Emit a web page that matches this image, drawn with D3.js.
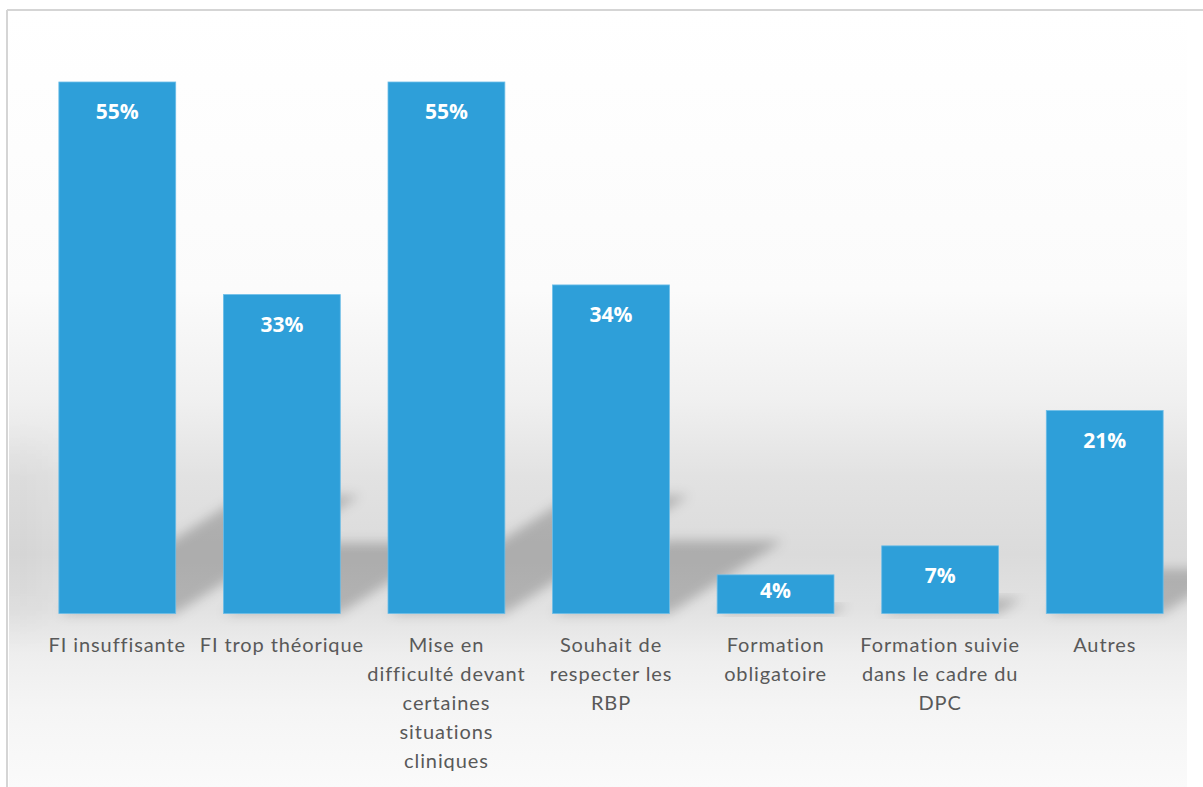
<!DOCTYPE html>
<html>
<head>
<meta charset="utf-8">
<script src="https://cdn.jsdelivr.net/npm/d3@7"></script>
<style>
  html, body { margin: 0; padding: 0; background: #ffffff; }
  svg { display: block; }
</style>
</head>
<body>
<svg id="chart" width="1203" height="787"></svg>
<script>
// Motivations for training (percent of respondents)
const categories = [
  ["FI insuffisante"],
  ["FI trop théorique"],
  ["Mise en", "difficulté devant", "certaines", "situations", "cliniques"],
  ["Souhait de", "respecter les", "RBP"],
  ["Formation", "obligatoire"],
  ["Formation suivie", "dans le cadre du", "DPC"],
  ["Autres"]
];
const values = [55, 33, 55, 34, 4, 7, 21];
const valueLabels = ["55%", "33%", "55%", "34%", "4%", "7%", "21%"];

const W = 1203, H = 787;
const svg = d3.select("#chart");
const defs = svg.append("defs");

// Plot backdrop: white fading into a grey floor band
const bg = defs.append("linearGradient")
  .attr("id", "floor").attr("x1", 0).attr("y1", 0).attr("x2", 0).attr("y2", 1);
[
  [0.00, "#ffffff"], [0.36, "#fbfbfb"], [0.50, "#f0f0f0"], [0.60, "#e2e2e2"],
  [0.70, "#dbdbdb"], [0.77, "#e2e2e2"], [0.83, "#eeeeee"], [0.90, "#f5f5f5"],
  [1.00, "#fafafa"]
].forEach(([o, c]) => bg.append("stop").attr("offset", o).attr("stop-color", c));

// Soft darkening along the left edge of the floor band
const edge = defs.append("linearGradient")
  .attr("id", "edgeShade").attr("x1", 0).attr("y1", 0).attr("x2", 1).attr("y2", 0);
edge.append("stop").attr("offset", 0).attr("stop-color", "#000").attr("stop-opacity", 0.06);
edge.append("stop").attr("offset", 1).attr("stop-color", "#000").attr("stop-opacity", 0);

defs.append("filter").attr("id", "blur")
  .attr("x", "-30%").attr("y", "-30%").attr("width", "160%").attr("height", "160%")
  .append("feGaussianBlur").attr("stdDeviation", 6);
defs.append("filter").attr("id", "blurWide")
  .attr("x", "-50%").attr("y", "-50%").attr("width", "200%").attr("height", "200%")
  .append("feGaussianBlur").attr("stdDeviation", 18);

const plotLeft = 9, plotRight = 1187, plotTop = 11;
defs.append("clipPath").attr("id", "plotClip")
  .append("rect").attr("x", plotLeft).attr("y", plotTop)
  .attr("width", plotRight - plotLeft).attr("height", H - plotTop);

svg.append("rect")
  .attr("x", plotLeft).attr("y", plotTop)
  .attr("width", plotRight - plotLeft).attr("height", H - plotTop)
  .attr("fill", "url(#floor)");

svg.append("rect")
  .attr("x", plotLeft).attr("y", 450).attr("width", 45).attr("height", 170)
  .attr("fill", "url(#edgeShade)").attr("filter", "url(#blurWide)")
  .attr("clip-path", "url(#plotClip)");

// Frame lines (top and left)
svg.append("line").attr("x1", 7).attr("x2", W).attr("y1", 10).attr("y2", 10)
  .attr("stroke", "#d5d5d5").attr("stroke-width", 2);
svg.append("line").attr("x1", 7).attr("x2", 7).attr("y1", 10).attr("y2", H)
  .attr("stroke", "#d5d5d5").attr("stroke-width", 2);

// Scales
const x = d3.scaleBand()
  .domain(d3.range(values.length))
  .range([35, 1187])
  .paddingInner(0.29)
  .paddingOuter(0.145);
const y = d3.scaleLinear().domain([0, 55]).range([613.5, 82]);

// Perspective shadows cast up and to the right of each bar
const shadowRatio = 0.222, shadowSlant = 1.56;
const shadowG = svg.append("g").attr("clip-path", "url(#plotClip)");
shadowG.selectAll("path")
  .data(values)
  .join("path")
  .attr("d", (d, i) => {
    const x0 = x(i), x1 = x(i) + x.bandwidth();
    const b = y(0);
    const sh = shadowRatio * (y(0) - y(d));
    const dx = sh * shadowSlant;
    return `M${x0},${b}L${x1},${b}L${x1 + dx},${b - sh}L${x0 + dx},${b - sh}Z`;
  })
  .attr("fill", "#000")
  .attr("fill-opacity", 0.21)
  .attr("filter", "url(#blur)");

// Bars
svg.append("g").selectAll("rect")
  .data(values)
  .join("rect")
  .attr("x", (d, i) => x(i))
  .attr("y", d => y(d))
  .attr("width", x.bandwidth())
  .attr("height", d => y(0) - y(d))
  .attr("fill", "#2e9fd9")
  .attr("stroke", "#6cbde8")
  .attr("stroke-width", 0.8);

// Value labels inside the bars
svg.append("g").selectAll("text")
  .data(values)
  .join("text")
  .attr("x", (d, i) => x(i) + x.bandwidth() / 2)
  .attr("y", d => {
    const h = y(0) - y(d);
    return y(d) + Math.min(30, h / 2 - 4);
  })
  .attr("dy", "0.35em")
  .attr("text-anchor", "middle")
  .attr("font-family", "'Open Sans', sans-serif")
  .attr("font-weight", 700)
  .attr("font-size", 21)
  .attr("fill", "#ffffff")
  .text((d, i) => valueLabels[i]);

// Category labels (wrapped lines)
const catG = svg.append("g")
  .attr("font-family", "Lato, 'Open Sans', sans-serif")
  .attr("font-size", 20)
  .attr("letter-spacing", 0.9)
  .attr("fill", "#595959")
  .attr("text-anchor", "middle");
categories.forEach((lines, i) => {
  const cx = x(i) + x.bandwidth() / 2;
  const t = catG.append("text")
    .attr("x", cx)
    .attr("y", 652);
  lines.forEach((ln, j) => {
    t.append("tspan")
      .attr("x", cx)
      .attr("dy", j === 0 ? 0 : 29)
      .text(ln);
  });
});
</script>
</body>
</html>
